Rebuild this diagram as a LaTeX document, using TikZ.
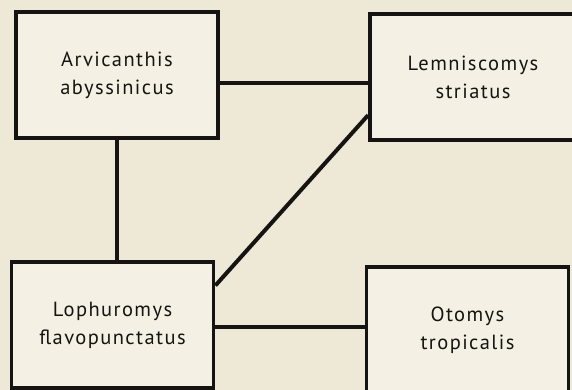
\documentclass[tikz,border=0pt]{standalone}
\usepackage{fontspec}
\setmainfont{PT Sans}[LetterSpace=7]
\usepackage{tikz}
\usetikzlibrary{positioning,calc}
\definecolor{paper}{RGB}{238,233,214}
\definecolor{boxfill}{RGB}{244,241,228}
\definecolor{ink}{RGB}{22,20,18}

\begin{document}
\begin{tikzpicture}[x=1pt,y=-1pt,
  species/.style={draw=ink,fill=boxfill,line width=3.8pt,minimum width=202pt,minimum height=126pt,
    align=center,text=ink,font=\fontsize{20.5}{28}\selectfont},
  link/.style={draw=ink,line width=4pt}]
  \fill[paper] (0,0) rectangle (572,390);
  \useasboundingbox (0,0) rectangle (572,390);
  \node[species] (arvicanthis) at (117,75) {Arvicanthis\\abyssinicus};
  \node[species,minimum width=206pt] (lemniscomys) at (473,77) {Lemniscomys\\striatus};
  \node[species] (lophuromys) at (112.5,325) {Lophuromys\\flavopunctatus};
  \node[species] (otomys) at (467.5,330) {Otomys\\tropicalis};
  \coordinate (topjoin) at ($(arvicanthis.east)+(0,8)$);
  \coordinate (lowjoin) at ($(lophuromys.east)+(0,2)$);
  \draw[link] (topjoin) -- (topjoin -| lemniscomys.west);
  \draw[link] (arvicanthis.south) -- (arvicanthis.south |- lophuromys.north);
  \draw[link] (lophuromys.21) -- (lemniscomys.200);
  \draw[link] (lowjoin) -- (lowjoin -| otomys.west);
\end{tikzpicture}
\end{document}
